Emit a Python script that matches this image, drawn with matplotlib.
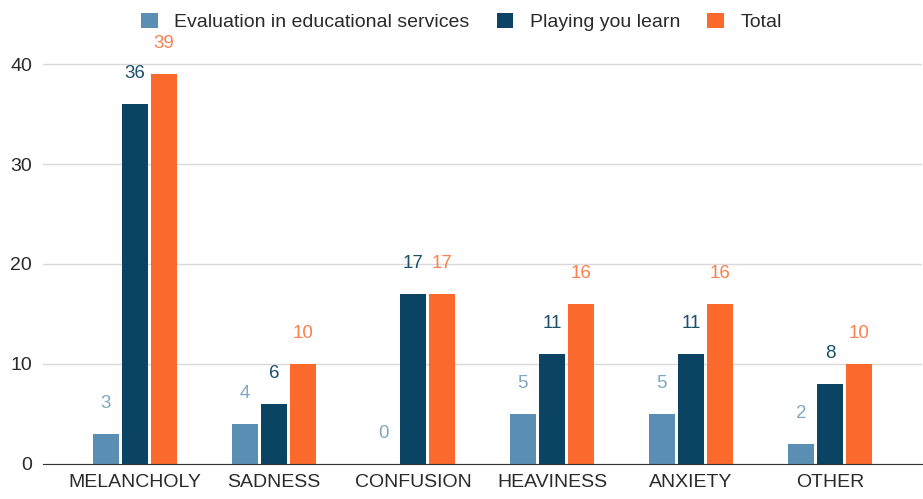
import matplotlib
matplotlib.use("Agg")
import matplotlib.pyplot as plt
import numpy as np

categories = ["MELANCHOLY", "SADNESS", "CONFUSION", "HEAVINESS", "ANXIETY", "OTHER"]
evaluation = [3, 4, 0, 5, 5, 2]
playing = [36, 6, 17, 11, 11, 8]
total = [39, 10, 17, 16, 16, 10]
series_names = ["Evaluation in educational services", "Playing you learn", "Total"]
y_ticks = [0, 10, 20, 30, 40]

bar_colors = ["#5a8fb3", "#0b4462", "#fb6a2c"]
label_colors = ["#7fa8c6", "#1a4f6e", "#fb8050"]

plt.rcParams["font.family"] = ["Liberation Sans", "DejaVu Sans"]

fig = plt.figure(figsize=(9.23, 4.99), dpi=100)
ax = fig.add_axes([43 / 923, 35 / 499, 879 / 923, 434 / 499])

x = np.arange(len(categories))
width = 0.187
step = 0.21
for i, (vals, name) in enumerate(zip([evaluation, playing, total], series_names)):
    pos = x + (i - 1) * step
    ax.bar(pos, vals, width, color=bar_colors[i], label=name, zorder=3)
    for p, v in zip(pos, vals):
        ax.text(p, v + 2.2, str(v), ha="center", va="bottom",
                fontsize=13.5, color=label_colors[i], zorder=4)

ax.set_xlim(-0.66, len(categories) - 1 + 0.66)
ax.set_ylim(0, 43.4)
ax.set_yticks(y_ticks)
ax.set_xticks(x)
ax.set_xticklabels(categories)
ax.tick_params(axis="both", length=0, labelsize=14, colors="#2a2a2a")
ax.tick_params(axis="y", pad=8)
ax.tick_params(axis="x", pad=7)
ax.grid(axis="y", color="#d9d9d9", linewidth=1, zorder=0)
for s in ["top", "right", "left"]:
    ax.spines[s].set_visible(False)
ax.spines["bottom"].set_color("#333333")
ax.spines["bottom"].set_zorder(5)

fig.legend(loc="upper center", bbox_to_anchor=(0.5, 1.01), ncol=3, frameon=False,
           fontsize=14, handlelength=0.85, handleheight=0.85, handletextpad=0.85,
           columnspacing=1.4, labelcolor="#2a2a2a")

fig.savefig("out.png", dpi=100)
